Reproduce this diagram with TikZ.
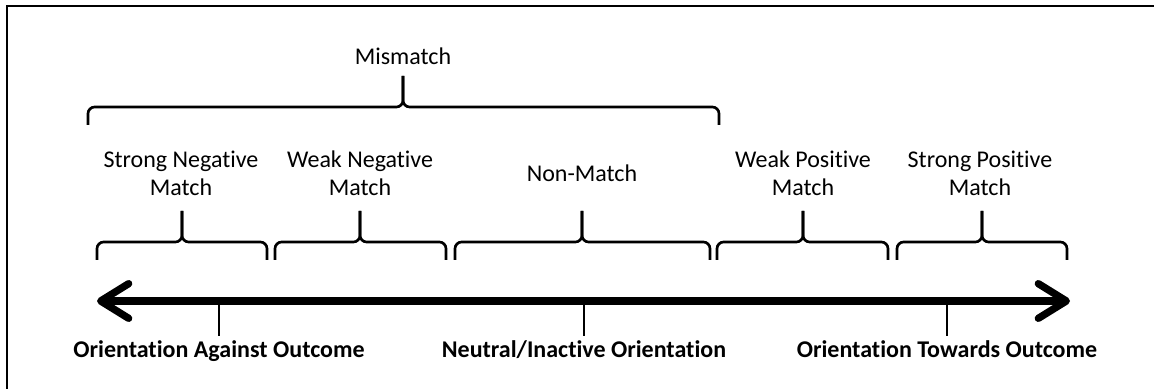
\documentclass[tikz,border=0pt]{standalone}
\usepackage{fontspec}
\setmainfont{Carlito}[Ligatures=NoCommon]
\usetikzlibrary{arrows.meta,positioning}
\tikzset{
	bracket/.style={
		draw,
		line width=2pt,
		rounded corners=5pt},
	matchlabel/.style={
		align=center,
		font=\fontsize{18}{21}\selectfont},
	axislabel/.style={
		anchor=base,
		font=\fontsize{18}{21}\selectfont\bfseries},
	axis/.style={
		line width=5.5pt,
		{Straight Barb[round,length=21pt,width=26pt]}-{Straight Barb[round,length=21pt,width=26pt]}},
	tick/.style={draw, line width=2pt},
}
% brace: left x, right x, tip x, bottom y
\newcommand*\rangebrace[4]{%
	\draw[bracket] (#1,#4) |- (#3,#4+18) -- (#3,#4+49);
	\draw[bracket] (#3,#4+49) -- (#3,#4+18) -| (#2,#4);}

\begin{document}
\begin{tikzpicture}[x=0.75pt, y=0.75pt]
\useasboundingbox (0,0) rectangle (1154,389);
\draw[line width=1.2pt] (7,-20) -- (7,383) -- (1180,383);

% upper brace
\node[matchlabel, anchor=base] (mis) at (403,324) {Mismatch};
\rangebrace{88}{719}{403}{264}

% match categories
\node[matchlabel] (snm) at (181,216) {Strong Negative\\Match};
\node[matchlabel] (wnm) at (360,216) {Weak Negative\\Match};
\node[matchlabel] (nm)  at (582,216) {Non-Match};
\node[matchlabel] (wpm) at (803,216) {Weak Positive\\Match};
\node[matchlabel] (spm) at (980,216) {Strong Positive\\Match};
\rangebrace{97}{267}{182}{129}
\rangebrace{275}{446}{360}{129}
\rangebrace{455}{710}{582}{129}
\rangebrace{717}{888}{803}{129}
\rangebrace{897}{1067}{982}{129}

% orientation axis
\coordinate (west) at (97,88);
\coordinate (east) at (1070,88);
\draw[axis] (west) -- (east);

\node[axislabel] (against) at (219,31) {Orientation Against Outcome};
\node[axislabel] (neutral) at (584,31) {Neutral/Inactive Orientation};
\node[axislabel] (towards) at (947,31) {Orientation Towards Outcome};
\draw[tick] (against.north |- west) -- (against.north);
\draw[tick] (neutral.north |- west) -- (neutral.north);
\draw[tick] (towards.north |- west) -- (towards.north);
\end{tikzpicture}
\end{document}
